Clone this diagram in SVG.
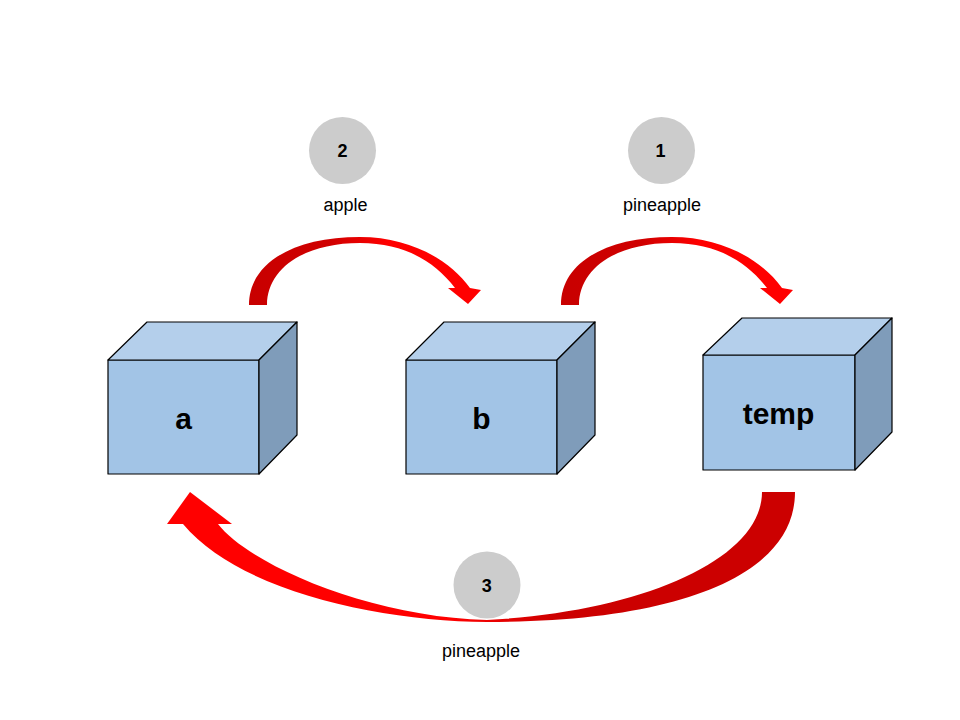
<svg xmlns="http://www.w3.org/2000/svg" width="960" height="720" viewBox="0 0 960 720">
<style>
.front{fill:#a2c4e6;stroke:#000;stroke-width:1.2;stroke-linejoin:round}
.top{fill:#b4cfeb;stroke:#000;stroke-width:1.2;stroke-linejoin:round}
.side{fill:#7f9cba;stroke:#000;stroke-width:1.2;stroke-linejoin:round}
.lbl{font-family:"Liberation Sans",Arial,sans-serif;font-weight:bold;font-size:30px;fill:#000;text-anchor:middle}
.badge{fill:#cccccc}
.num{font-family:"Liberation Sans",Arial,sans-serif;font-weight:bold;font-size:18px;fill:#000;text-anchor:middle}
.cap{font-family:"Liberation Sans",Arial,sans-serif;font-size:18px;fill:#000;text-anchor:middle}
</style>
<defs>
<linearGradient id="gTop" x1="0" y1="0" x2="1" y2="0">
<stop offset="0" stop-color="#c80000"/>
<stop offset="0.35" stop-color="#d00000"/>
<stop offset="0.6" stop-color="#ff0000"/>
<stop offset="1" stop-color="#ff0000"/>
</linearGradient>
<linearGradient id="gBot" x1="0" y1="0" x2="1" y2="0">
<stop offset="0" stop-color="#ff0000"/>
<stop offset="0.45" stop-color="#ff0000"/>
<stop offset="0.62" stop-color="#cc0000"/>
<stop offset="1" stop-color="#cc0000"/>
</linearGradient>
</defs>
<rect width="960" height="720" fill="#fff"/>
<g id="connectors">
<path id="arrow-a-b" fill="url(#gTop)" d="M249,305 C249,262 295,237 360,237 C410,237 450,260 470,288 L481,290 L468,304 L448,288 L455,288 C435,262 405,243 360,243 C305,243 267,268 267,305 Z"/>
<path id="arrow-b-temp" fill="url(#gTop)" transform="translate(312,0)" d="M249,305 C249,262 295,237 360,237 C410,237 450,260 470,288 L481,290 L468,304 L448,288 L455,288 C435,262 405,243 360,243 C305,243 267,268 267,305 Z"/>
<path id="arrow-temp-a" fill="url(#gBot)" d="M762,492 L795,492 C795,575 680,622 487,622 C380,621 240,592 183,524 L167,524 L190,492 L232,524 L218,524 C250,565 370,617 487,620 C640,612 762,560 762,492 Z"/>
</g>
<g id="node-a">
<polygon class="front" points="108,360 259,360 259,474 108,474"/>
<polygon class="top" points="108,360 147,322 297,322 259,360"/>
<polygon class="side" points="259,360 297,322 297,435 259,474"/>
<text class="lbl" x="183.5" y="429">a</text>
</g>
<g id="node-b">
<polygon class="front" points="406,360 557,360 557,474 406,474"/>
<polygon class="top" points="406,360 444,322 595,322 557,360"/>
<polygon class="side" points="557,360 595,322 595,435 557,474"/>
<text class="lbl" x="481.5" y="429">b</text>
</g>
<g id="node-temp">
<polygon class="front" points="703,355 855,355 855,470 703,470"/>
<polygon class="top" points="703,355 742,318 892,318 855,355"/>
<polygon class="side" points="855,355 892,318 892,432 855,470"/>
<text class="lbl" x="778.5" y="424">temp</text>
</g>
<g id="step-2">
<circle class="badge" cx="342.5" cy="150.5" r="33.5"/>
<text class="num" x="342.5" y="157">2</text>
<text class="cap" x="345.5" y="211">apple</text>
</g>
<g id="step-1">
<circle class="badge" cx="661.5" cy="150.5" r="33.5"/>
<text class="num" x="660.5" y="157">1</text>
<text class="cap" x="662" y="211">pineapple</text>
</g>
<g id="step-3">
<circle class="badge" cx="487" cy="585" r="33.5"/>
<text class="num" x="486.7" y="592">3</text>
<text class="cap" x="481" y="657">pineapple</text>
</g>
</svg>
